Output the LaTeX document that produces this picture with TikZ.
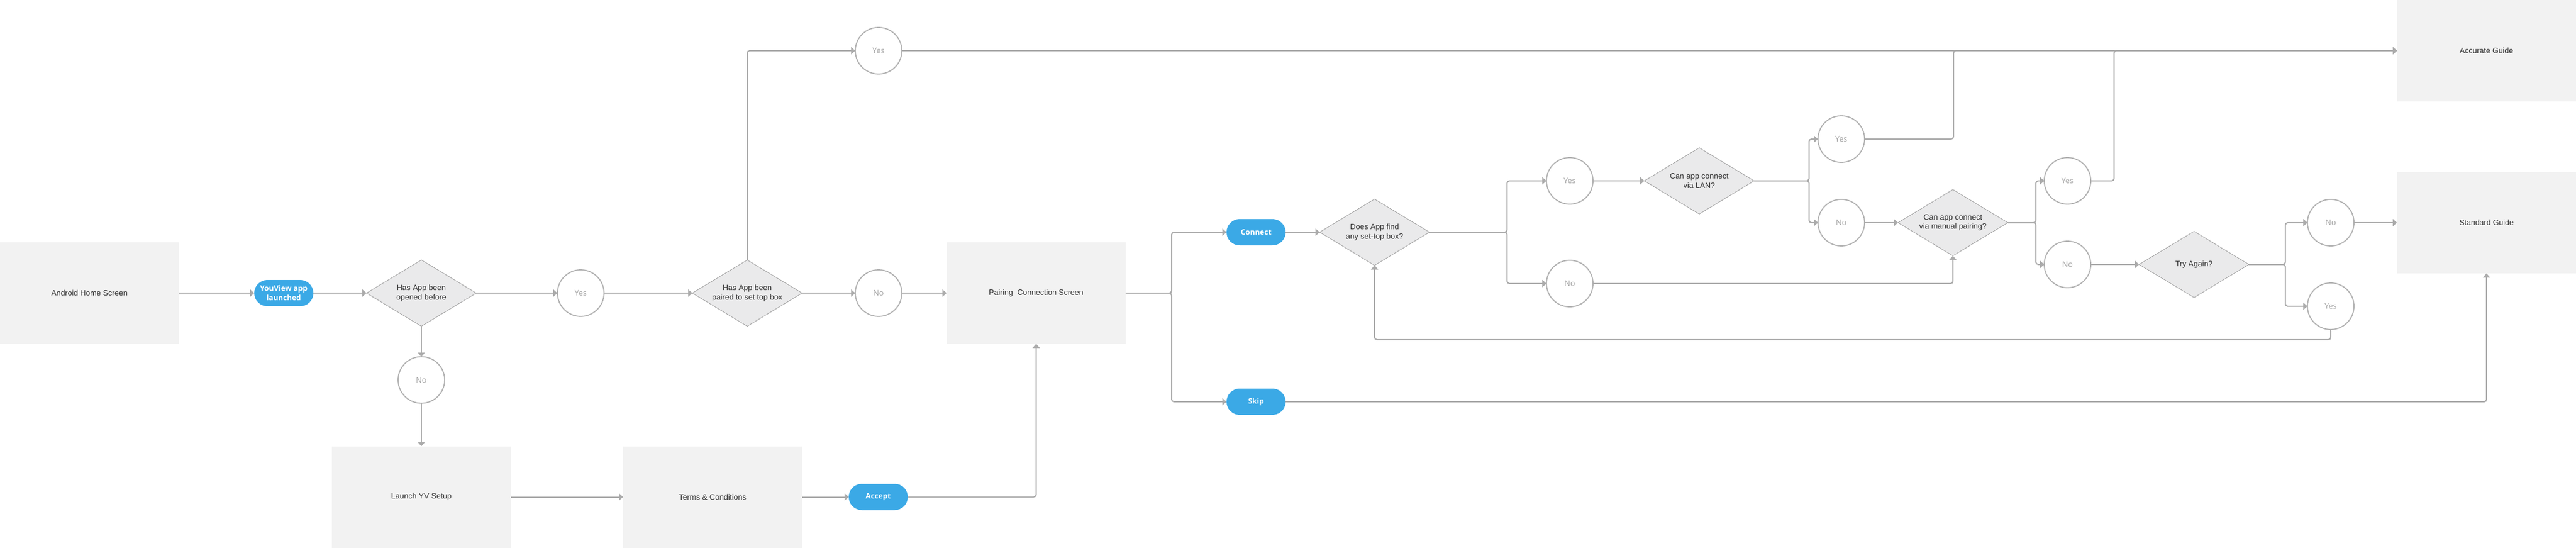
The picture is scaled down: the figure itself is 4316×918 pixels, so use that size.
\documentclass[tikz,border=0pt]{standalone}
\usepackage{fontspec}
\setmainfont{Liberation Sans}
\newfontfamily\answerfont{Open Sans}
\usepackage{tikz}
\usetikzlibrary{shapes, arrows.meta, positioning, calc}
\definecolor{screengray}{HTML}{F2F2F2}
\definecolor{pillblue}{HTML}{3BA9E6}
\definecolor{linegray}{HTML}{ABABAB}
\definecolor{ringgray}{HTML}{B2B2B2}
\definecolor{answergray}{HTML}{A3A3A3}
\definecolor{decisionfill}{HTML}{EAEAEB}
\definecolor{decisionline}{HTML}{9E9E9E}
\definecolor{textdark}{HTML}{333333}
\tikzset{
    screen/.style={rectangle, fill=screengray, text=textdark, align=center, minimum width=300pt, minimum height=170pt, outer sep=0pt, font=\fontsize{13}{15.5}\selectfont},
    pill/.style={rectangle, rounded corners=22pt, fill=pillblue, text=white, align=center, minimum width=99pt, minimum height=44pt, inner sep=0pt, outer sep=0pt, font=\answerfont\bfseries\fontsize{12.5}{16}\selectfont},
    decision/.style={diamond, draw=decisionline, line width=0.8pt, fill=decisionfill, text=textdark, align=center, aspect=1.66, minimum width=184pt, minimum height=111pt, inner sep=0pt, outer sep=0pt, font=\fontsize{13}{15.5}\selectfont},
    answer/.style={circle, draw=ringgray, line width=1.8pt, fill=white, text=answergray, minimum size=78pt, inner sep=0pt, outer sep=0pt, font=\answerfont\fontsize{13}{15}\selectfont},
    arrow/.style={draw=linegray, line width=2pt, rounded corners=4pt, -{Triangle[length=7pt, width=12pt]}}
}

\begin{document}
\begin{tikzpicture}[node distance=80pt]
            \useasboundingbox (0,0) rectangle (4316pt,-918pt);
            \node[screen] (home) at (150pt,-491pt) {Android Home Screen};
            \node[pill, right=126pt of home] (launched) {YouView app\\launched};
            \node[decision, right=89pt of launched] (opened) {Has App been\\opened before};
            \node[answer, right=136pt of opened] (yesOpened) {Yes};
            \node[answer, below=51pt of opened] (noOpened) {No};
            \node[screen, below=72pt of noOpened] (setup) {Launch YV Setup};
            \node[screen, right=188pt of setup] (terms) {Terms \& Conditions};
            \node[pill, right=78pt of terms] (accept) {Accept};
            \node[decision, right=148pt of yesOpened] (paired) {Has App been\\paired to set top box};
            \node[answer, right=89pt of paired] (noPaired) {No};
            \node[answer, above=328pt of noPaired] (yesPaired) {Yes};
            \node[screen, right=75pt of noPaired] (pairing) {Pairing\ \ Connection Screen};
            \node[pill, right=169pt of pairing, yshift=102pt] (connect) {Connect};
            \node[pill, below=240pt of connect] (skip) {Skip};
            \node[decision, right=57pt of connect] (findbox) {Does App find\\any set-top box?};
            \node[answer, right=196pt of findbox, yshift=86pt] (yesFind) {Yes};
            \node[answer, below=94pt of yesFind] (noFind) {No};
            \node[decision, right=86pt of yesFind] (lan) {Can app connect\\via LAN?};
            \node[answer, right=107pt of lan, yshift=70pt] (yesLan) {Yes};
            \node[answer, below=62pt of yesLan] (noLan) {No};
            \node[decision, right=56pt of noLan] (manual) {Can app connect\\via manual pairing?};
            \node[answer, right=61pt of manual, yshift=70pt] (yesManual) {Yes};
            \node[answer, below=62pt of yesManual] (noManual) {No};
            \node[decision, right=81pt of noManual] (tryagain) {Try Again?};
            \node[answer, right=98pt of tryagain, yshift=70pt] (noTry) {No};
            \node[answer, below=62pt of noTry] (yesTry) {Yes};
            \node[screen, right=2505pt of yesPaired] (accurate) {Accurate Guide};
            \node[screen, below=118pt of accurate] (standard) {Standard Guide};

            \path[arrow] (home) -- (launched);
            \path[arrow] (launched) -- (opened);
            \path[arrow] (opened) -- (yesOpened);
            \path[arrow] (opened) -- (noOpened);
            \path[arrow] (noOpened) -- (setup);
            \path[arrow] (setup) -- (terms);
            \path[arrow] (terms) -- (accept);
            \path[arrow] (accept) -| (pairing);
            \path[arrow] (yesOpened) -- (paired);
            \path[arrow] (paired) -- (noPaired);
            \path[arrow] (paired) |- (yesPaired);
            \path[arrow] (noPaired) -- (pairing);
            \path[arrow] (yesPaired) -- (accurate);
            \path[arrow] (pairing.east) -- ++(77pt,0) |- (connect);
            \path[arrow] (pairing.east) -- ++(77pt,0) |- (skip);
            \path[arrow] (connect) -- (findbox);
            \path[arrow] (findbox.east) -- ++(130pt,0) |- (yesFind);
            \path[arrow] (findbox.east) -- ++(130pt,0) |- (noFind);
            \path[arrow] (yesFind) -- (lan);
            \path[arrow] (noFind) -| (manual);
            \path[arrow] (lan.east) -- ++(92pt,0) |- (yesLan);
            \path[arrow] (lan.east) -- ++(92pt,0) |- (noLan);
            \path[arrow] (yesLan.east) -- ++(149pt,0) |- (accurate);
            \path[arrow] (noLan) -- (manual);
            \path[arrow] (manual.east) -- ++(47pt,0) |- (yesManual);
            \path[arrow] (manual.east) -- ++(47pt,0) |- (noManual);
            \path[arrow] (yesManual.east) -- ++(39pt,0) |- (accurate);
            \path[arrow] (noManual) -- (tryagain);
            \path[arrow] (tryagain.east) -- ++(61pt,0) |- (noTry);
            \path[arrow] (tryagain.east) -- ++(61pt,0) |- (yesTry);
            \path[arrow] (noTry) -- (standard);
            \path[arrow] (yesTry.south) -- ++(0,-17pt) -| (findbox);
            \path[arrow] (skip) -| (standard);
        \end{tikzpicture}
\end{document}
